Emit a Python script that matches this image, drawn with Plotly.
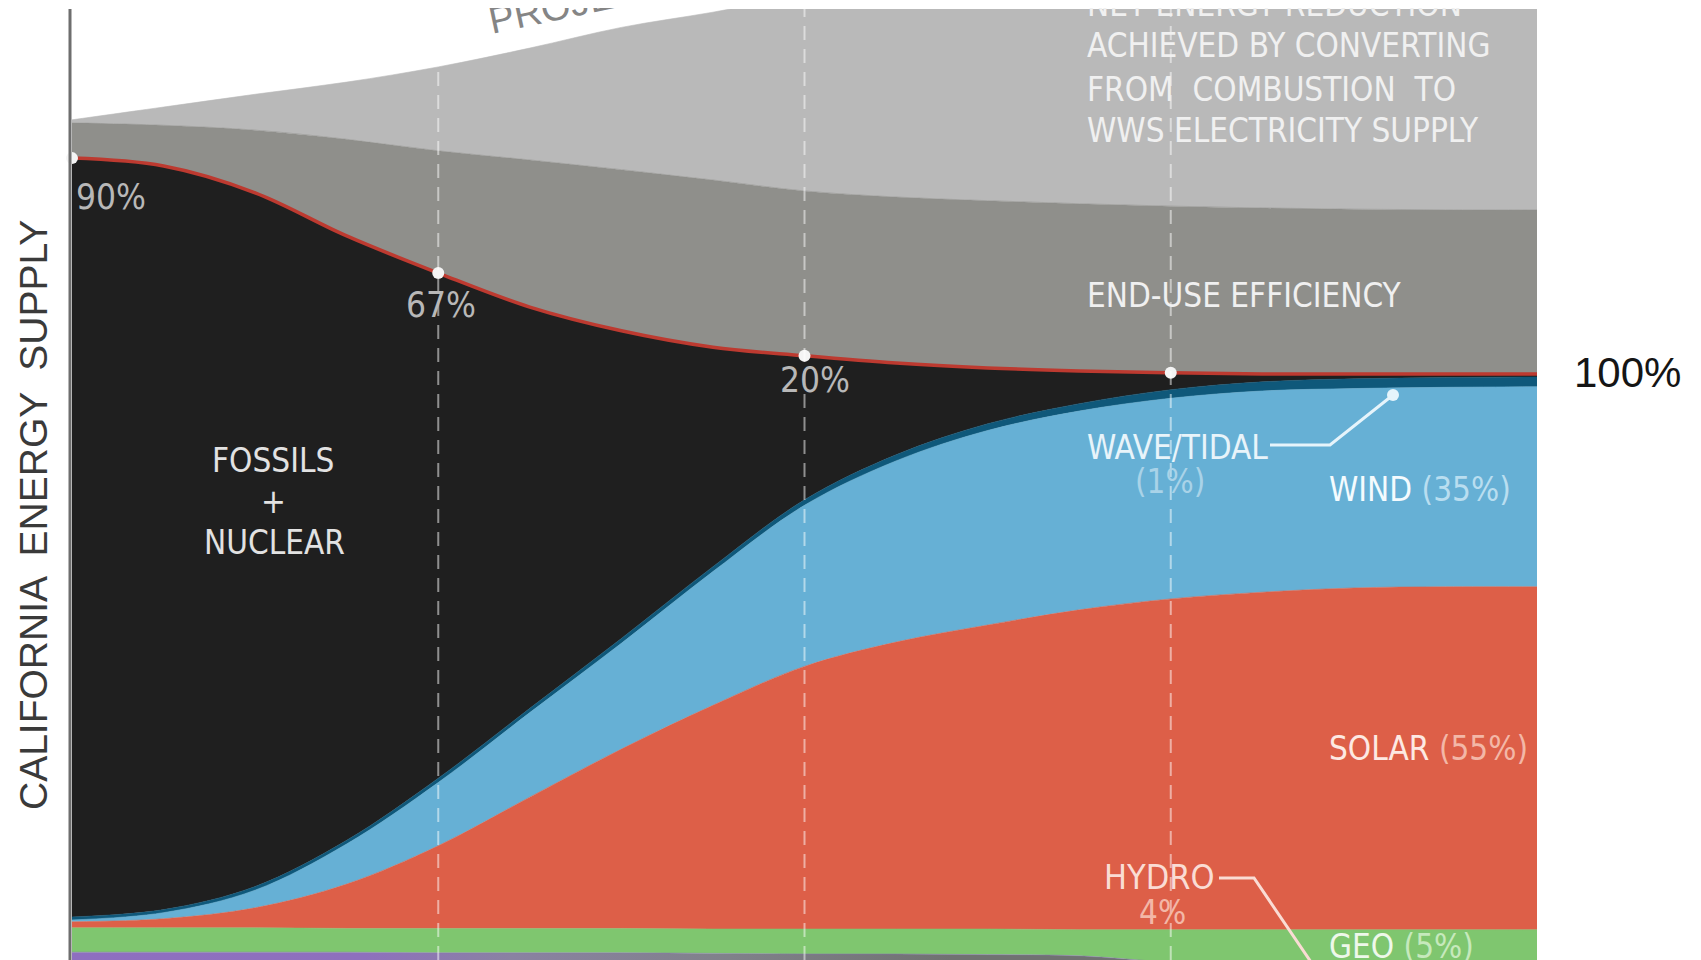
import plotly.graph_objects as go
from itertools import accumulate

# ---------------- data ----------------
years = [2010, 2012.5, 2015, 2017.5, 2020, 2022.5, 2025, 2027.5, 2030,
         2032.5, 2035, 2037.5, 2040, 2042.5, 2045, 2047.5, 2050]
hydro = [5.4, 5.4, 5.4, 5.4, 5.3, 5.3, 5.3, 5.2, 5.1, 5.1, 5.0, 4.8, 3.8, 3.8, 3.8, 3.8, 3.8]
geo = [4.0, 4.0, 4.0, 3.9, 4.0, 4.0, 4.0, 4.0, 4.1, 4.1, 4.2, 4.3, 5.3, 5.3, 5.3, 5.3, 5.3]
solar = [1.0, 1.5, 3.3, 7.3, 13.6, 21.6, 29.5, 36.8, 43.2, 47.2, 50.0, 52.6, 54.4, 55.5, 56.2, 56.4, 56.4]
wind = [0.3, 1.0, 2.9, 6.6, 10.4, 13.9, 17.4, 22.0, 26.5, 29.8, 32.0, 32.7, 33.0, 33.1, 32.8, 32.8, 32.9]
wave = [0.5, 0.5, 0.6, 0.6, 0.7, 0.7, 0.8, 0.8, 0.9, 1.0, 1.1, 1.2, 1.4, 1.5, 1.6, 1.6, 1.6]
fossil = [124.8, 122.3, 114.1, 99.4, 83.1, 66.0, 50.6, 36.1, 23.7, 15.1, 9.2, 5.4, 2.8, 1.3, 0.8, 0.6, 0.5]
efficiency = [5.8, 6.7, 10.3, 15.9, 20.1, 24.2, 26.5, 27.5, 27.1, 27.3, 27.5, 27.5, 27.4, 27.3, 27.1, 27.0, 27.0]
bau = [0.5, 3.0, 5.9, 9.4, 13.8, 18.4, 23.4, 27.6, 32.2, 35.4, 38.1, 40.6, 42.9, 44.2, 45.4, 46.5, 47.5]
marker_years = [2010, 2020, 2030, 2040]
fossil_share_labels = ["90%", "67%", "20%"]

# ---------------- geometry (page pixels -> figure/paper coords) ----------------
OFF = 8                     # page body margin
FW, FH = 1701 - OFF, 960 - OFF
PLOT_X0, PLOT_X1 = 72, 1537  # page px
PLOT_Y0, PLOT_Y1 = 9, 960    # page px
L = PLOT_X0 - OFF
T = PLOT_Y0 - OFF
R = FW - (PLOT_X1 - OFF)
B = 0
PW = PLOT_X1 - PLOT_X0
PH = PLOT_Y1 - PLOT_Y0


def px(x):
    return (x - PLOT_X0) / PW


def py(y):
    return (PLOT_Y1 - y) / PH


def X(p):
    return 2010 + (p - PLOT_X0) / PW * 40


def Yv(p):
    return (985 - p) / 6.08


Y_LO = Yv(PLOT_Y1)
Y_HI = Yv(PLOT_Y0)

COND = "DejaVu Sans Condensed, Liberation Sans Narrow, sans-serif"
REG = "Liberation Sans, Arial, sans-serif"

fig = go.Figure()

layers = [
    ("Hydro", hydro, None),
    ("Geo", geo, "#7fc66f"),
    ("Solar", solar, "#dd5f48"),
    ("Wind", wind, "#66b0d5"),
    ("Wave/Tidal", wave, "#0f587a"),
    ("Fossils + Nuclear", fossil, "#1f1f1f"),
    ("End-use efficiency", efficiency, "#8f8f8b"),
    ("Projected BAU", bau, "#b9b9b9"),
]
for name, vals, col in layers:
    kw = dict(x=years, y=vals, name=name, stackgroup="one", mode="lines",
              hoverinfo="skip", showlegend=False)
    if col is None:
        kw["line"] = dict(width=0.5, shape="spline", color="#8a72b8")
        kw["fillgradient"] = dict(
            type="horizontal",
            colorscale=[[0, "#8e6fc0"], [0.2, "#8e70bd"], [0.3, "#8a82a2"],
                        [0.45, "#80818a"], [0.6, "#707272"], [1, "#707272"]])
    elif name == "Fossils + Nuclear":
        kw["line"] = dict(width=3.5, shape="spline", color="#bd3a30")
        kw["fillcolor"] = col
    else:
        kw["line"] = dict(width=0.6, shape="spline", color=col)
        kw["fillcolor"] = col
    fig.add_trace(go.Scatter(**kw))

# white dots on the fossil top line at decade marks
tops = [list(accumulate(v)) for v in zip(hydro, geo, solar, wind, wave, fossil)]
idx = [years.index(yv) for yv in marker_years]
fig.add_trace(go.Scatter(
    x=marker_years, y=[tops[i][-1] for i in idx], mode="markers",
    marker=dict(size=12, color="#f4f4f4", line=dict(width=0)),
    cliponaxis=False, hoverinfo="skip", showlegend=False))

# wave/tidal callout dot
fig.add_trace(go.Scatter(
    x=[X(1393)], y=[Yv(395)], mode="markers",
    marker=dict(size=12, color="#e6f4fb"), hoverinfo="skip", showlegend=False))

shapes = []
for yv in marker_years[1:]:
    shapes.append(dict(type="line", xref="x", yref="paper", x0=yv, x1=yv, y0=0, y1=1,
                       line=dict(color="rgba(255,255,255,0.5)", width=2, dash="14px,9px"),
                       layer="above"))
shapes.append(dict(type="line", xref="paper", yref="paper", x0=px(70), x1=px(70), y0=0, y1=1,
                   line=dict(color="#6e6e6e", width=3), layer="above"))
shapes.append(dict(type="path", xref="paper", yref="paper",
                   path=f"M {px(1270)},{py(445)} L {px(1330)},{py(445)} L {px(1393)},{py(395)}",
                   line=dict(color="#e6f4fb", width=3), layer="above"))
shapes.append(dict(type="path", xref="paper", yref="paper",
                   path=f"M {px(1219)},{py(878)} L {px(1254)},{py(878)} L {px(1313)},{py(965)}",
                   line=dict(color="#fadcd4", width=3), layer="above"))

ann = []


def text(t, x, y, size=33, color="#ffffff", xanchor="left", family=COND, angle=0):
    if xanchor == "left":
        x -= 3
    ann.append(dict(text=t, x=px(x), y=py(y), xref="paper", yref="paper", showarrow=False,
                    xanchor=xanchor, yanchor="middle", textangle=angle,
                    font=dict(size=size, color=color, family=family)))


text("PROJECTED BAU DEMAND", 731, -30, size=38, color="#858585", xanchor="center",
     family=REG, angle=-12)
text("NET ENERGY REDUCTION", 1088, 4, color="#f0f0f0")
text("ACHIEVED BY CONVERTING", 1088, 46, color="#f0f0f0")
text("FROM  COMBUSTION  TO", 1088, 89, color="#f0f0f0")
text("WWS ELECTRICITY SUPPLY", 1088, 131, color="#f0f0f0")
text("END-USE EFFICIENCY", 1088, 295, color="#f0f0f0")
text("FOSSILS", 273, 460, color="#e2e2e2", xanchor="center")
text("+", 273, 501, color="#e2e2e2", xanchor="center")
text("NUCLEAR", 274, 542, color="#e2e2e2", xanchor="center")
for lab, (xx, yy, anc) in zip(fossil_share_labels,
                              [(77, 197, "left"), (441, 305, "center"), (815, 380, "center")]):
    text(lab, xx, yy, size=35, color="#b8b8b8", xanchor=anc)
text("WAVE/TIDAL", 1088, 447, color="#e8f4fa")
text("(1%)", 1170, 481, color="#a9d3e8", xanchor="center")
text("WIND <span style='color:#b9def0'>(35%)</span>", 1330, 490, color="#f4fbfe")
text("SOLAR <span style='color:#f3b7a7'>(55%)</span>", 1330, 748, color="#fde9e3")
text("HYDRO", 1105, 877, size=34, color="#fadcd4")
text("4%", 1162, 912, color="#f3b7a7", xanchor="center")
text("GEO <span style='color:#c6e9bc'>(5%)</span>", 1330, 946, color="#eef8ea")
text("100%", 1575, 373, size=42, color="#151515", family=REG)
text("CALIFORNIA  ENERGY  SUPPLY", 33, 515, size=39, color="#3a3a3a", xanchor="center",
     family=REG, angle=-90)

fig.update_layout(
    width=FW, height=FH,
    margin=dict(l=L, r=R, t=T, b=B, pad=0),
    paper_bgcolor="#ffffff", plot_bgcolor="#ffffff",
    xaxis=dict(range=[2010, 2050], visible=False, fixedrange=True),
    yaxis=dict(range=[Y_LO, Y_HI], showgrid=False, zeroline=False, showticklabels=False,
               ticks="", showline=False, fixedrange=True),
    shapes=shapes, annotations=ann, showlegend=False,
)

fig.write_html("out.html")
